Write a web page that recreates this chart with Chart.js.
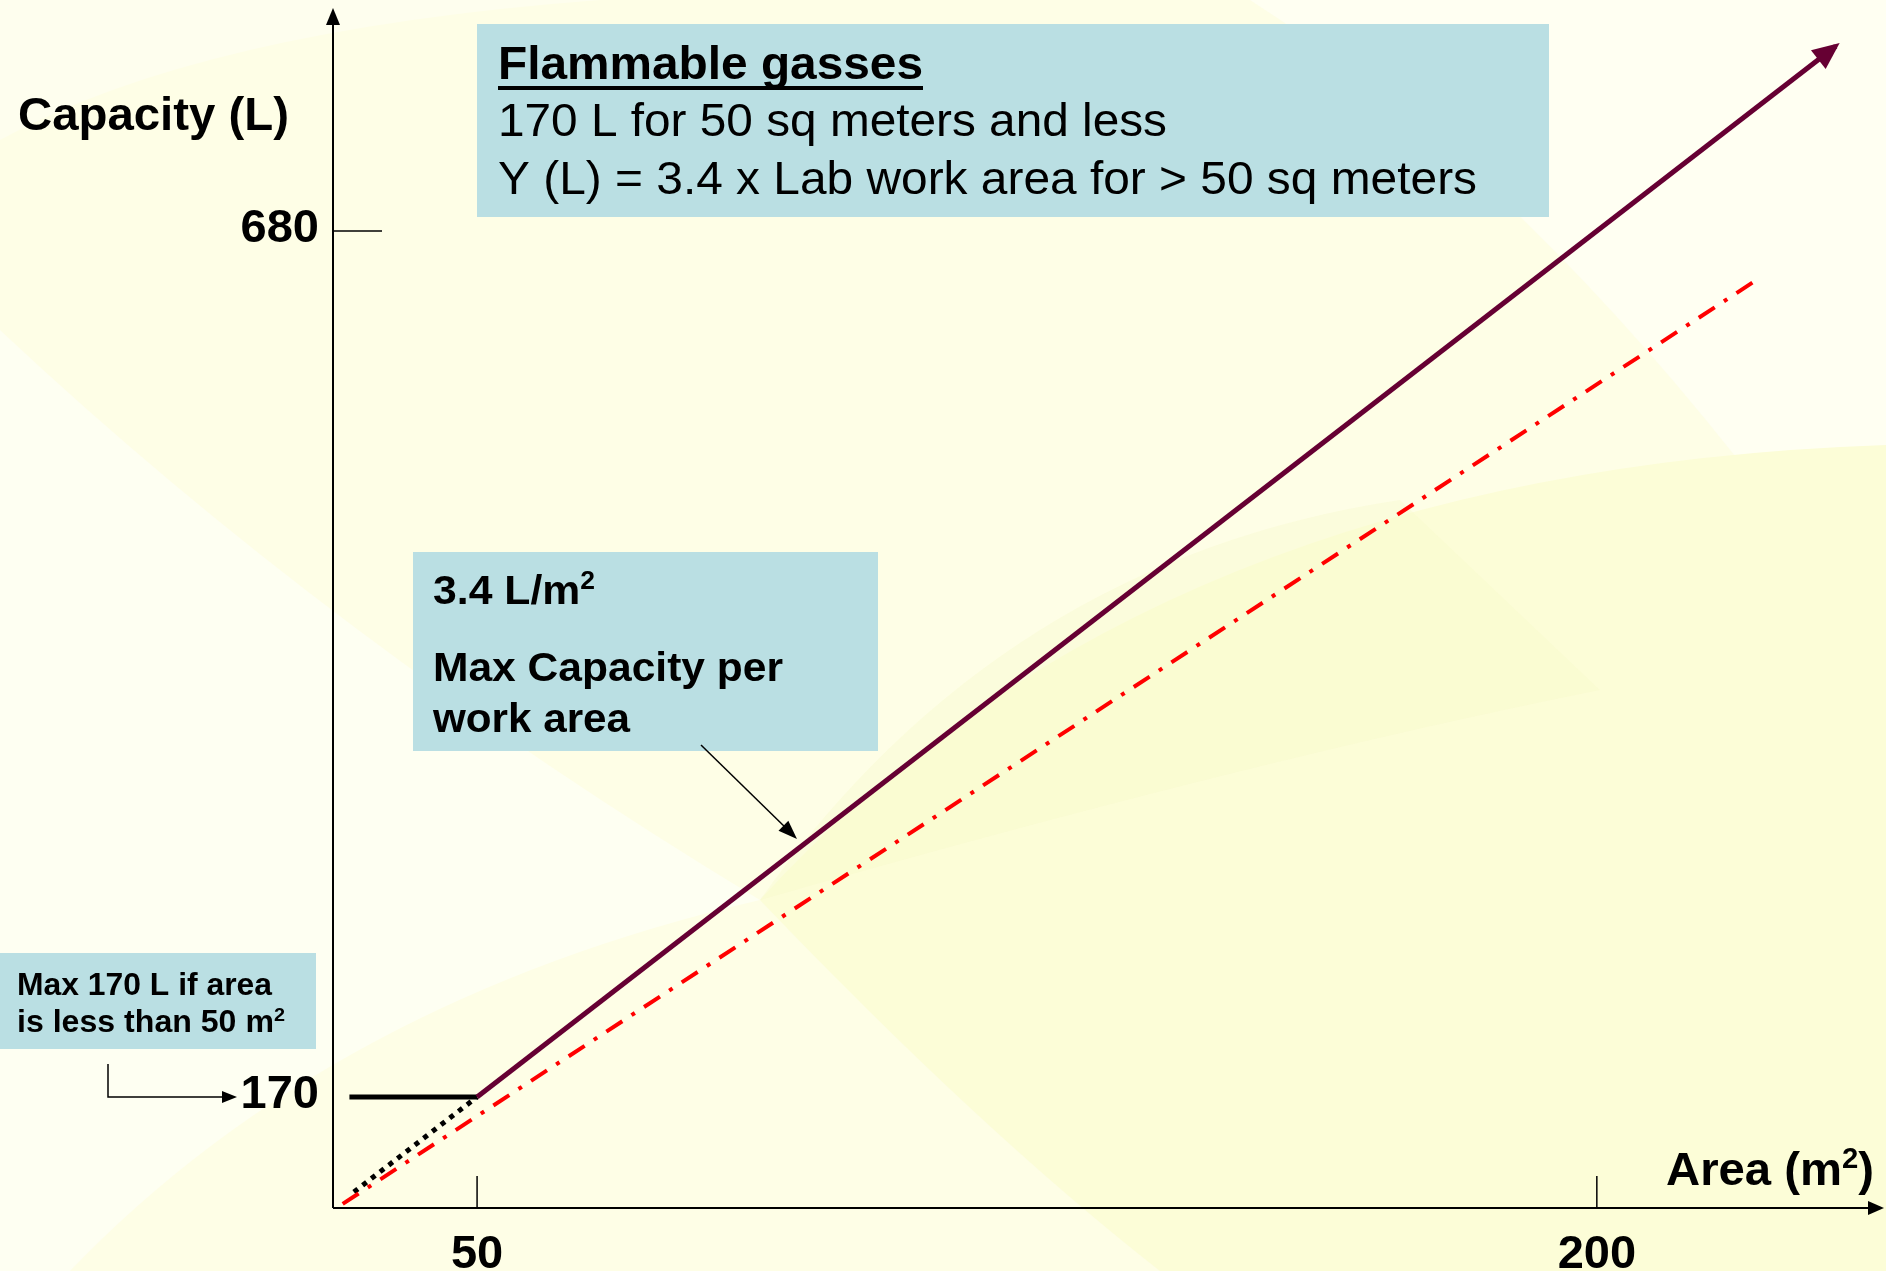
<!DOCTYPE html>
<html>
<head>
<meta charset="utf-8">
<script src="https://cdn.jsdelivr.net/npm/chart.js@4.4.1/dist/chart.umd.min.js"></script>
<style>
  html, body { margin: 0; padding: 0; background: #fefee6; }
  #wrap { width: 1886px; height: 1271px; }
</style>
</head>
<body>
<div id="wrap"><canvas id="chart" width="1886" height="1271"></canvas></div>
<script>
// -------- Data --------
const xTicks = [50, 200];
const yTicks = [170, 680];
const xRange = [30.7, 238.2];
const yRange = [104.6, 810.1];

// max capacity line (3.4 L per m2), ends in an arrow
const capacityLine = [{ x: 50, y: 170 }, { x: 232, y: 788.8 }];
// red dash-dot reference line
const redLine = [{ x: 32, y: 107 }, { x: 221.6, y: 651.7 }];
// dotted extension of the 3.4 line below 50 m2
const dottedLine = [{ x: 33.5, y: 114 }, { x: 50, y: 170 }];
// flat 170 L limit below 50 m2
const floorLine = [{ x: 32.9, y: 170 }, { x: 50, y: 170 }];

const FONT = '"Liberation Sans", Arial, sans-serif';
const BOX = '#badfe3';


// -------- Helpers --------
function richText(ctx, x, y, parts, size, weight, targetW) {
    const fontFor = (s) => weight + ' ' + s + 'px ' + FONT;
    let w = 0;
    parts.forEach(p => {
        ctx.font = fontFor(p[1] ? size * 0.62 : size);
        w += ctx.measureText(p[0]).width;
    });
    const sx = targetW ? targetW / w : 1;
    ctx.save();
    ctx.fillStyle = '#000';
    ctx.textAlign = 'left';
    ctx.textBaseline = 'alphabetic';
    ctx.translate(x, y);
    ctx.scale(sx, 1);
    let cx = 0;
    parts.forEach(p => {
        ctx.font = fontFor(p[1] ? size * 0.62 : size);
        ctx.fillText(p[0], cx, p[1] ? -size * 0.36 : 0);
        cx += ctx.measureText(p[0]).width;
    });
    ctx.restore();
    return w * sx;
}

function arrowHead(ctx, tx, ty, dx, dy, len, half, color) {
    const l = Math.hypot(dx, dy);
    const ux = dx / l, uy = dy / l;
    ctx.save();
    ctx.fillStyle = color;
    ctx.beginPath();
    ctx.moveTo(tx, ty);
    ctx.lineTo(tx - ux * len - uy * half, ty - uy * len + ux * half);
    ctx.lineTo(tx - ux * len + uy * half, ty - uy * len - ux * half);
    ctx.closePath();
    ctx.fill();
    ctx.restore();
}

function line(ctx, x1, y1, x2, y2, w, color) {
    ctx.save();
    ctx.strokeStyle = color;
    ctx.lineWidth = w;
    ctx.beginPath();
    ctx.moveTo(x1, y1);
    ctx.lineTo(x2, y2);
    ctx.stroke();
    ctx.restore();
}


// -------- Background --------
function drawBackground(ctx, W, H) {
    ctx.save();
    ctx.fillStyle = '#fefee6';
    ctx.fillRect(0, 0, W, H);

    // pale top right
    ctx.fillStyle = '#fffff2';
    ctx.beginPath();
    ctx.moveTo(1250, 0);
    ctx.lineTo(W, 0);
    ctx.lineTo(W, 447);
    ctx.lineTo(1735, 456);
    ctx.quadraticCurveTo(1500, 160, 1250, 0);
    ctx.fill();

    // top left soft arc
    ctx.fillStyle = '#fefeee';
    ctx.beginPath();
    ctx.moveTo(0, 0);
    ctx.lineTo(600, 0);
    ctx.quadraticCurveTo(200, 30, 0, 140);
    ctx.fill();

    // whiter wedge lower left
    ctx.fillStyle = '#fefff2';
    ctx.beginPath();
    ctx.moveTo(0, 330);
    ctx.quadraticCurveTo(330, 640, 760, 900);
    ctx.quadraticCurveTo(330, 1000, 70, H);
    ctx.lineTo(0, H);
    ctx.closePath();
    ctx.fill();

    // yellower sweep lower right
    ctx.fillStyle = '#fcfdd7';
    ctx.beginPath();
    ctx.moveTo(W, 445);
    ctx.quadraticCurveTo(1150, 470, 760, 900);
    ctx.quadraticCurveTo(980, 1130, 1160, H);
    ctx.lineTo(W, H);
    ctx.closePath();
    ctx.fill();

    // slight green tint band
    ctx.fillStyle = 'rgba(246, 250, 200, 0.35)';
    ctx.beginPath();
    ctx.moveTo(1400, 500);
    ctx.quadraticCurveTo(1000, 560, 760, 900);
    ctx.quadraticCurveTo(1250, 760, 1600, 690);
    ctx.closePath();
    ctx.fill();
    ctx.restore();
}


// -------- Overlay plugin --------
const overlay = {
    id: 'overlay',
    beforeDraw(chart) {
        drawBackground(chart.ctx, chart.width, chart.height);
    },
    beforeDatasetsDraw(chart) {
        const ctx = chart.ctx;
        const a = chart.chartArea;
        const xs = chart.scales.x, ys = chart.scales.y;

        // axes with arrows
        line(ctx, a.left, a.bottom, a.left, a.top + 14, 2, '#000');
        arrowHead(ctx, a.left, a.top - 2, 0, -1, 17, 7, '#000');
        line(ctx, a.left, a.bottom, a.right - 14, a.bottom, 2, '#000');
        arrowHead(ctx, a.right + 2, a.bottom, 1, 0, 16, 7, '#000');

        // tick marks
        line(ctx, a.left, ys.getPixelForValue(680), a.left + 49, ys.getPixelForValue(680), 1.5, '#000');
        xTicks.forEach(v => {
            const px = xs.getPixelForValue(v);
            line(ctx, px, a.bottom - 32, px, a.bottom, 1.5, '#000');
        });

        // axis titles
        richText(ctx, 18, 130, [['Capacity (L)']], 47, 'bold', 271);
        richText(ctx, 1666, 1185, [['Area (m'], ['2', true], [')']], 47, 'bold', 208);

        // title box
        ctx.fillStyle = BOX;
        ctx.fillRect(477, 24, 1072, 193);
        const tw = richText(ctx, 498, 79, [['Flammable gasses']], 46, 'bold', 425);
        ctx.fillStyle = '#000';
        ctx.fillRect(498, 86, tw, 4);
        richText(ctx, 498, 136, [['170 L for 50 sq meters and less']], 46, 'normal', 669);
        richText(ctx, 498, 194, [['Y (L) = 3.4 x Lab work area for > 50 sq meters']], 46, 'normal', 979);

        // slope box
        ctx.fillStyle = BOX;
        ctx.fillRect(413, 552, 465, 199);
        richText(ctx, 433, 604, [['3.4 L/m'], ['2', true]], 41, 'bold', 162);
        richText(ctx, 433, 681, [['Max Capacity per']], 41, 'bold', 350);
        richText(ctx, 433, 732, [['work area']], 41, 'bold', 197);
        line(ctx, 701, 745, 788, 830, 1.5, '#000');
        arrowHead(ctx, 797, 839, 96, 94, 19, 7, '#000');

        // limit box
        ctx.fillStyle = BOX;
        ctx.fillRect(0, 953, 316, 96);
        richText(ctx, 17, 995, [['Max 170 L if area']], 31, 'bold', 255);
        richText(ctx, 17, 1032, [['is less than 50 m'], ['2', true]], 31, 'bold', 268);
        const y170 = ys.getPixelForValue(170);
        ctx.save();
        ctx.strokeStyle = '#000';
        ctx.lineWidth = 1.5;
        ctx.beginPath();
        ctx.moveTo(108, 1064);
        ctx.lineTo(108, y170);
        ctx.lineTo(224, y170);
        ctx.stroke();
        ctx.restore();
        arrowHead(ctx, 237, y170, 1, 0, 15, 6, '#000');
    },
    afterDatasetsDraw(chart) {
        const ctx = chart.ctx;
        const meta = chart.getDatasetMeta(0);
        const p0 = meta.data[0], p1 = meta.data[meta.data.length - 1];
        const dx = p1.x - p0.x, dy = p1.y - p0.y;
        const l = Math.hypot(dx, dy);
        arrowHead(ctx, p1.x + dx / l * 5, p1.y + dy / l * 5, dx, dy, 27, 12, '#660033');
    }
};


// -------- Chart --------
const tickFont = { family: FONT, size: 47, weight: 'bold' };

new Chart(document.getElementById('chart'), {
    type: 'scatter',
    data: {
        datasets: [
            { data: capacityLine, showLine: true, borderColor: '#660033', borderWidth: 5, pointRadius: 0 },
            { data: redLine, showLine: true, borderColor: '#ff0000', borderWidth: 4, borderDash: [19, 11, 4, 11], pointRadius: 0 },
            { data: dottedLine, showLine: true, borderColor: '#000000', borderWidth: 5, borderDash: [5, 6], pointRadius: 0 },
            { data: floorLine, showLine: true, borderColor: '#000000', borderWidth: 5, pointRadius: 0 }
        ]
    },
    options: {
        responsive: false,
        animation: false,
        devicePixelRatio: 1,
        layout: { padding: { top: 10, right: 4, left: 0, bottom: 0 } },
        plugins: { legend: { display: false }, tooltip: { enabled: false } },
        scales: {
            x: {
                type: 'linear',
                min: xRange[0],
                max: xRange[1],
                afterBuildTicks: s => { s.ticks = xTicks.map(v => ({ value: v })); },
                afterFit: s => {
                    s.height = 63;
                    s.paddingLeft = 0; s.paddingRight = 0;
                },
                grid: { display: false, drawTicks: false },
                border: { display: false },
                ticks: { color: '#000', font: tickFont, padding: 19, maxRotation: 0, autoSkip: false, callback: v => String(v) }
            },
            y: {
                type: 'linear',
                min: yRange[0],
                max: yRange[1],
                afterBuildTicks: s => { s.ticks = yTicks.map(v => ({ value: v })); },
                afterFit: s => {
                    s.width = 333;
                    s.paddingTop = 0; s.paddingBottom = 0;
                },
                grid: { display: false, drawTicks: false },
                border: { display: false },
                ticks: { color: '#000', font: tickFont, padding: 14, labelOffset: -2, autoSkip: false, callback: v => String(v) }
            }
        }
    },
    plugins: [overlay]
});
</script>
</body>
</html>
